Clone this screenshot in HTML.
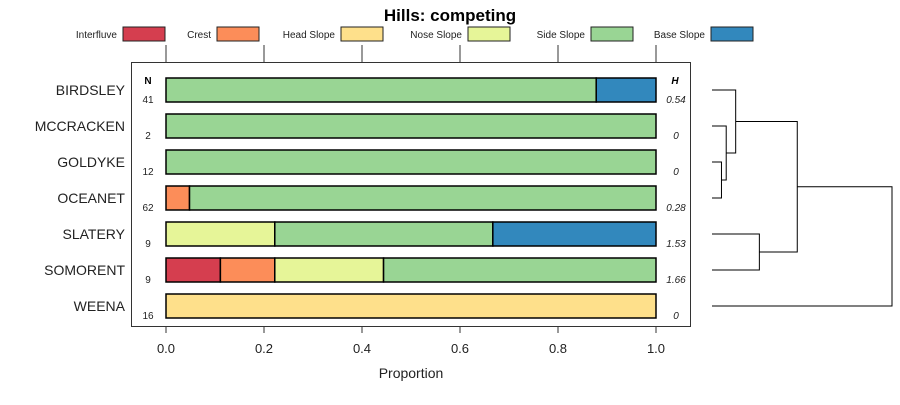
<!DOCTYPE html>
<html><head><meta charset="utf-8"><style>
body{margin:0;background:#fff;font-family:"Liberation Sans",sans-serif}
svg text{font-family:"Liberation Sans",sans-serif}
</style></head><body>
<svg id="chart" width="900" height="400" xmlns="http://www.w3.org/2000/svg"></svg>
<script>
const categories=["BIRDSLEY","MCCRACKEN","GOLDYKE","OCEANET","SLATERY","SOMORENT","WEENA"];
const nValues=[41,2,12,62,9,9,16];
const hValues=["0.54","0","0","0.28","1.53","1.66","0"];
const classes=["Interfluve","Crest","Head Slope","Nose Slope","Side Slope","Base Slope"];
const colors=["#d53e4f","#fc8d59","#fee08b","#e6f598","#99d594","#3288bd"];
const interfluve=[0,0,0,0,0,0.111,0];
const crest=[0,0,0,0.048,0,0.111,0];
const headSlope=[0,0,0,0,0,0,1];
const noseSlope=[0,0,0,0,0.222,0.222,0];
const sideSlope=[0.878,1,1,0.952,0.445,0.556,0];
const baseSlope=[0.122,0,0,0,0.333,0,0];
const ticks=[0,0.2,0.4,0.6,0.8,1.0];
const tickLabels=["0.0","0.2","0.4","0.6","0.8","1.0"];
const series=[interfluve,crest,headSlope,noseSlope,sideSlope,baseSlope];
// dendrogram merges: [leftNode,rightNode,height]; leaves 0..6, internal 7..
const merges=[[2,3,0.1],[1,7,0.15],[0,8,0.25],[4,5,0.5],[9,10,0.9],[11,6,1.9]];

const svg=document.getElementById('chart');
const NS="http://www.w3.org/2000/svg";
function mk(tag,attrs,parent){const e=document.createElementNS(NS,tag);for(const k in attrs)e.setAttribute(k,attrs[k]);(parent||svg).appendChild(e);return e;}
const x=v=>166+v*490;
const y=i=>90+i*36;
const dx=h=>712+h*(892-712)/1.9;

let t=mk('text',{x:450,y:21,'text-anchor':'middle','font-size':17,'font-weight':'bold'});t.textContent="Hills: competing";


const legX=[123,217,341,468,591,711];
classes.forEach((c,i)=>{
  const g=mk('g',{});
  
  
  const tt=mk('text',{x:legX[i]-6,y:38,'text-anchor':'end','font-size':10,fill:'#222'},g);tt.textContent=c;
  mk('rect',{x:legX[i],y:27,width:42,height:14,fill:colors[i],stroke:'#222','stroke-width':1},g);
});

const frame=mk('rect',{x:131.5,y:62.5,width:559,height:264,fill:'none',stroke:'#333','stroke-width':1});


ticks.forEach((v,i)=>{
  mk('line',{x1:x(v),x2:x(v),y1:45,y2:62,stroke:'#333'});
  mk('line',{x1:x(v),x2:x(v),y1:327,y2:333,stroke:'#333'});
  const l=mk('text',{x:x(v),y:353,'text-anchor':'middle','font-size':13,fill:'#222'});l.textContent=tickLabels[i];
  
});
t=mk('text',{x:411,y:378,'text-anchor':'middle','font-size':14,fill:'#222'});t.textContent="Proportion";


t=mk('text',{x:148,y:84,'text-anchor':'middle','font-size':10,'font-weight':'bold'});t.textContent="N";
t=mk('text',{x:675,y:84,'text-anchor':'middle','font-size':10,'font-weight':'bold','font-style':'italic'});t.textContent="H";

categories.forEach((c,i)=>{
  const lab=mk('text',{x:125,y:y(i)+5,'text-anchor':'end','font-size':14,fill:'#222'});lab.textContent=c;
  
  const n=mk('text',{x:148,y:y(i)+13,'text-anchor':'middle','font-size':10,fill:'#222'});n.textContent=nValues[i];
  const h=mk('text',{x:676,y:y(i)+13,'text-anchor':'middle','font-size':10,'font-style':'italic',fill:'#222'});h.textContent=hValues[i];
  let acc=0;
  series.forEach((s,j)=>{
    const v=s[i];if(v<=0)return;
    const r=mk('rect',{x:x(acc),y:y(i)-12,width:x(acc+v)-x(acc),height:24,fill:colors[j],stroke:'#000','stroke-width':1.5});
    
    acc+=v;
  });
});

// dendrogram
const nodeY=categories.map((c,i)=>y(i)),nodeX=categories.map(()=>712);
merges.forEach(m=>{
  const [a,b,h]=m;const X=dx(h);
  const p=mk('path',{d:`M${nodeX[a]},${nodeY[a]}H${X}V${nodeY[b]}H${nodeX[b]}`,fill:'none',stroke:'#000','stroke-width':1});
  
  nodeX.push(X);nodeY.push((nodeY[a]+nodeY[b])/2);
});
</script>
</body></html>
